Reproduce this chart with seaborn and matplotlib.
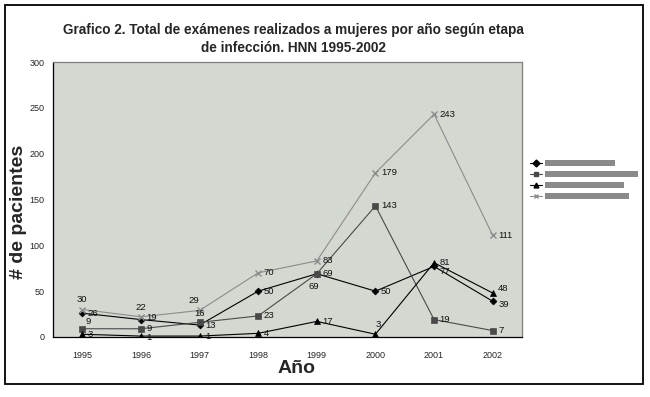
import matplotlib
matplotlib.use("Agg")
import matplotlib.pyplot as plt
from matplotlib.patches import Rectangle
from matplotlib.lines import Line2D
import seaborn as sns
import pandas as pd

# ---------------- data ----------------
years = ["1995", "1996", "1997", "1998", "1999", "2000", "2001", "2002"]
serie_1 = [26, 19, 13, 50, 69, 50, 77, 39]      # black, diamond
serie_2 = [9, 9, 16, 23, 69, 143, 19, 7]        # dark grey, square
serie_3 = [3, 1, 1, 4, 17, 3, 81, 48]           # black, triangle
serie_4 = [30, 22, 29, 70, 83, 179, 243, 111]   # light grey, x
series_names = ["Serie 1", "Serie 2", "Serie 3", "Serie 4"]
y_ticks = [0, 50, 100, 150, 200, 250, 300]

title = "Grafico 2. Total de exámenes realizados a mujeres por año según etapa\nde infección. HNN 1995-2002"
x_label = "Año"
y_label = "# de pacientes"

# ---------------- styles ----------------
colors = {"Serie 1": "#000000", "Serie 2": "#4a4a4a", "Serie 3": "#000000", "Serie 4": "#8c8c8c"}
markers = {"Serie 1": "D", "Serie 2": "s", "Serie 3": "^", "Serie 4": "x"}
msizes = {"Serie 1": 3.5, "Serie 2": 4, "Serie 3": 4, "Serie 4": 4}

rows = []
for name, vals in zip(series_names, [serie_1, serie_2, serie_3, serie_4]):
    for i, (yr, v) in enumerate(zip(years, vals)):
        rows.append({"pos": i, "year": yr, "valor": v, "serie": name})
df = pd.DataFrame(rows)

sns.set_theme(style="white")
plt.rcParams["font.family"] = ["Liberation Sans", "DejaVu Sans"]

fig = plt.figure(figsize=(6.5, 3.97), dpi=100)
ax = fig.add_axes([53 / 650, 1 - 337 / 397, (522 - 53) / 650, (337 - 62) / 397])
ax.set_facecolor("#d3d8d1")

for name in series_names:
    sub = df[df["serie"] == name]
    sns.lineplot(data=sub, x="pos", y="valor", ax=ax, color=colors[name],
                 marker=markers[name], markersize=msizes[name], linewidth=0.8,
                 markeredgewidth=1.0 if name == "Serie 4" else 0.5,
                 markeredgecolor=colors[name], legend=False, sort=False)

# data labels
offsets = {
    ("Serie 4", 0): (0, 7, "center"), ("Serie 4", 1): (0, 7, "center"),
    ("Serie 4", 2): (-4, 7, "center"),
    ("Serie 2", 0): (2, 5, "left"), ("Serie 2", 2): (0, 6, "center"),
    ("Serie 3", 1): (4, -1, "left"), ("Serie 2", 1): (4, 0.5, "left"),
    ("Serie 1", 1): (4, 1.5, "left"),
    ("Serie 1", 4): (-2, -9, "center"), ("Serie 3", 5): (2, 7, "center"),
    ("Serie 1", 6): (4, -4, "left"),
    ("Serie 3", 7): (4, 3, "left"), ("Serie 1", 7): (4, -2, "left"),
}
for name, vals in zip(series_names, [serie_1, serie_2, serie_3, serie_4]):
    for i, v in enumerate(vals):
        dx, dy, ha = offsets.get((name, i), (4, 0, "left"))
        ax.annotate(str(v), (i, v), xytext=(dx, dy), textcoords="offset points",
                    ha=ha, va="center", fontsize=6.8, color="#111111")

ax.set_xlim(-0.5, len(years) - 0.5)
ax.set_ylim(0, 300)
ax.set_yticks(y_ticks)
ax.set_yticklabels([str(t) for t in y_ticks], fontsize=6.5)
ax.set_xticks([i - 0.5 for i in range(len(years) + 1)])
ax.set_xticklabels([])
ax.set_xticks(range(len(years)), minor=True)
ax.set_xticklabels(years, minor=True, fontsize=6.5)
ax.tick_params(axis="x", which="major", direction="out", length=4, width=0.8, color="black")
ax.tick_params(axis="x", which="minor", length=0, pad=10)
ax.tick_params(axis="y", direction="out", length=4, width=0.8, color="black", pad=2)
ax.set_xlabel(x_label, fontsize=14, fontweight="bold", labelpad=2)
ax.xaxis.set_label_coords(0.52, -0.085)
ax.set_ylabel(y_label, fontsize=14, fontweight="bold")
ax.yaxis.set_label_coords(-0.055, 0.455)
for s in ["left", "bottom"]:
    ax.spines[s].set_color("black")
    ax.spines[s].set_linewidth(0.9)
for s in ["top", "right"]:
    ax.spines[s].set_color("#7f7f7f")
    ax.spines[s].set_linewidth(0.9)

fig.text(293 / 650, 1 - 39 / 397, title, ha="center", va="center",
         fontsize=9.8, fontweight="bold", linespacing=1.3)

# legend (labels hidden as grey bars)
handles = [Line2D([], [], color=colors[n], marker=markers[n], markersize=3.5,
                  linewidth=0.8, markeredgecolor=colors[n]) for n in series_names]
leg = fig.legend(handles, ["", "", "", ""], loc="center left",
                 bbox_to_anchor=(523 / 650, 1 - 180 / 397), frameon=False,
                 handlelength=1.3, handletextpad=0.1, labelspacing=0.12,
                 borderpad=0.2, fontsize=7)
bar_ends = [615, 638, 624, 629]
bar_ys = [163, 174, 185, 196]
for xe, yc in zip(bar_ends, bar_ys):
    fig.patches.append(Rectangle((545 / 650, 1 - (yc + 3) / 397), (xe - 545) / 650, 6 / 397,
                                 transform=fig.transFigure, facecolor="#8a8a8a",
                                 edgecolor="none"))

fig.patches.append(Rectangle((5 / 650, 1 - 384 / 397), 638 / 650, 379 / 397,
                             transform=fig.transFigure, fill=False,
                             edgecolor="black", linewidth=1.3))

fig.savefig("out.png", dpi=100, facecolor="white")
